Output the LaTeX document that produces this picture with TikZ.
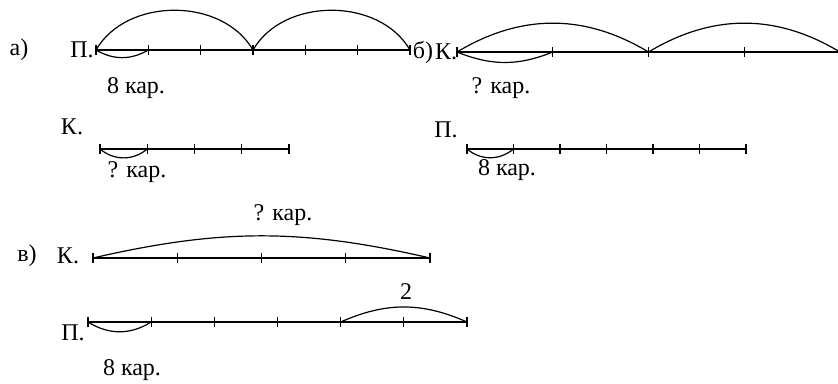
\documentclass[tikz,border=0pt]{standalone}
\usepackage{fontspec}
\setmainfont{Liberation Serif}
\tikzset{
  seg/.style={line width=0.9pt},
  thickseg/.style={line width=1.5pt},
  arcline/.style={line width=0.9pt},
  lbl/.style={inner sep=0pt, font=\fontsize{18}{21}\selectfont},
}
\begin{document}
\begin{tikzpicture}[x=0.75pt,y=0.75pt]
\useasboundingbox (0,0) rectangle (838,-383);

% а)
\foreach \i in {0,...,6} {
  \coordinate (aP\i) at ({96+\i*52.33},-50);
  \draw[seg] ({96+\i*52.33},-45) -- ({96+\i*52.33},-55);
}
\draw[seg] (aP0) -- (aP6);
\draw[arcline] (aP0) to[bend left=60] (aP3);
\draw[arcline] (aP3) to[bend left=60] (aP6);
\draw[arcline] (aP0) to[bend right=30] (aP1);

\foreach \i in {0,...,4} {
  \coordinate (aK\i) at ({100+\i*47.25},-149);
  \draw[seg] ({100+\i*47.25},-144) -- ({100+\i*47.25},-154);
}
\draw[seg] (aK0) -- (aK4);
\draw[thickseg] (aK0) -- (aK1);
\draw[arcline] (aK0) to[bend right=40] (aK1);

\node[lbl] (la) at (19,-50) {а)};
\node[lbl] (laP) at (82,-50) {П.};
\node[lbl] (laP8) at (136,-88) {8 кар.};
\node[lbl] (laK) at (72,-127) {К.};
\node[lbl] (laKq) at (137,-172) {? кар.};

% б)
\foreach \i in {0,...,4} {
  \coordinate (bK\i) at ({457+\i*95.75},-52);
  \draw[seg] ({457+\i*95.75},-47) -- ({457+\i*95.75},-57);
}
\draw[seg] (bK0) -- (bK4);
\draw[arcline] (bK0) to[bend left=31] (bK2);
\draw[arcline] (bK2) to[bend left=31] (bK4);
\draw[arcline] (bK0) to[bend right=22] (bK1);

\foreach \i in {0,...,6} {
  \coordinate (bP\i) at ({467+\i*46.5},-149);
  \draw[seg] ({467+\i*46.5},-144) -- ({467+\i*46.5},-154);
}
\draw[seg] (bP0) -- (bP6);
\draw[thickseg] (bP0) -- (bP1);
\draw[arcline] (bP0) to[bend right=40] (bP1);

\node[lbl] (lb) at (423,-52) {б)};
\node[lbl] (lbK) at (446,-52) {К.};
\node[lbl] (lbKq) at (501,-88) {? кар.};
\node[lbl] (lbP) at (446,-130) {П.};
\node[lbl] (lbP8) at (507,-170) {8 кар.};

% в)
\foreach \i in {0,...,4} {
  \coordinate (cK\i) at ({93+\i*84.25},-258);
  \draw[seg] ({93+\i*84.25},-253) -- ({93+\i*84.25},-263);
}
\draw[seg] (cK0) -- (cK4);
\draw[arcline] (cK0) to[bend left=13] (cK4);

\foreach \i in {0,...,6} {
  \coordinate (cP\i) at ({88+\i*63.17},-322);
  \draw[seg] ({88+\i*63.17},-317) -- ({88+\i*63.17},-327);
}
\draw[seg] (cP0) -- (cP6);
\draw[line width=1.2pt] (cP1) -- (cP2);
\draw[arcline] (cP0) to[bend right=32] (cP1);
\draw[arcline] (cP4) to[bend left=24] (cP6);

\node[lbl] (lc) at (27,-256) {в)};
\node[lbl] (lcK) at (68,-256) {К.};
\node[lbl] (lcKq) at (283,-215) {? кар.};
\node[lbl] (lcP2) at (406,-292) {2};
\node[lbl] (lcP) at (73,-333) {П.};
\node[lbl] (lcP8) at (132,-370) {8 кар.};
\end{tikzpicture}
\end{document}
